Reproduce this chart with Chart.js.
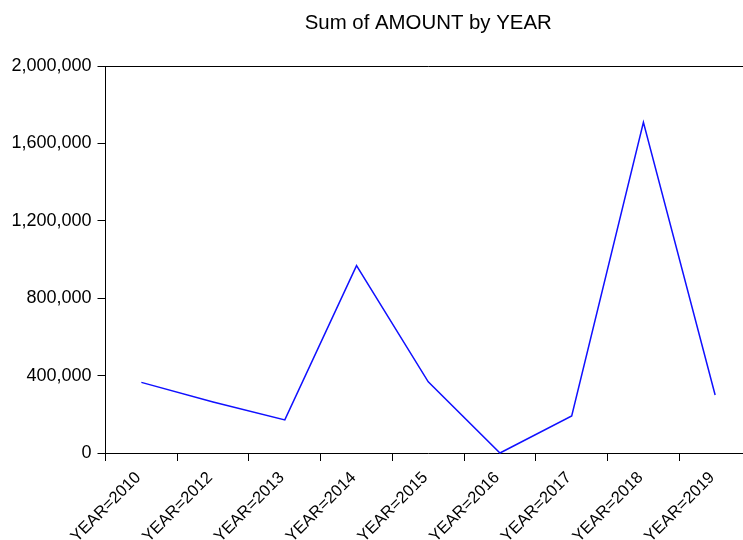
<!DOCTYPE html>
<html>
<head>
<meta charset="utf-8">
<script src="https://cdn.jsdelivr.net/npm/chart.js@4/dist/chart.umd.min.js"></script>
<style>
  html, body { margin: 0; padding: 0; background: #fff; overflow: hidden; }
  #wrap { position: relative; width: 751px; height: 540px; }
</style>
</head>
<body>
<div id="wrap"><canvas id="c"></canvas></div>
<script>
const categories = ['YEAR=2010','YEAR=2012','YEAR=2013','YEAR=2014','YEAR=2015','YEAR=2016','YEAR=2017','YEAR=2018','YEAR=2019'];
const amounts = [365000, 264000, 171000, 968000, 368000, 0, 191000, 1709000, 300000];
const yTicks = [0, 400000, 800000, 1200000, 1600000, 2000000];
const chartTitle = 'Sum of AMOUNT by YEAR';

const FONT = 'Arial, "Liberation Sans", sans-serif';

const frameAndTitle = {
  id: 'frameAndTitle',
  afterDraw(chart) {
    const a = chart.chartArea, ctx = chart.ctx;
    ctx.save();
    ctx.strokeStyle = '#000';
    ctx.lineWidth = 1;
    ctx.beginPath();
    ctx.moveTo(a.left, Math.round(a.top) + 0.5);
    ctx.lineTo(a.right, Math.round(a.top) + 0.5);
    ctx.stroke();
    ctx.fillStyle = '#000';
    ctx.font = '20.4px ' + FONT;
    ctx.textAlign = 'center';
    ctx.textBaseline = 'middle';
    ctx.fillText(chartTitle, (a.left + a.right) / 2, 23);
    ctx.restore();
  }
};

new Chart(document.getElementById('c'), {
  type: 'line',
  data: {
    labels: categories,
    datasets: [{
      data: amounts,
      borderColor: '#1010ff',
      borderWidth: 1.5,
      pointRadius: 0,
      tension: 0,
      fill: false,
      clip: false
    }]
  },
  options: {
    responsive: true,
    maintainAspectRatio: false,
    animation: false,
    layout: { padding: { left: 10, right: 0, top: 66, bottom: 0 } },
    plugins: {
      legend: { display: false },
      tooltip: { enabled: false },
      title: { display: false }
    },
    scales: {
      x: {
        type: 'category',
        offset: true,
        afterFit(scale) { scale.height = 87; },
        grid: { display: true, offset: true, drawOnChartArea: false, drawTicks: true, tickLength: 8, tickColor: '#000', lineWidth: 1 },
        border: { display: true, color: '#000', width: 1 },
        ticks: {
          color: '#000',
          font: { family: FONT, size: 16.5 },
          autoSkip: false,
          minRotation: 45,
          maxRotation: 45,
          padding: 7,
          labelOffset: -3
        }
      },
      y: {
        min: 0,
        max: 2000000,
        afterFit(scale) { scale.width = 95.5; },
        afterBuildTicks(scale) { scale.ticks = yTicks.map(v => ({ value: v })); },
        grid: { display: true, drawOnChartArea: false, drawTicks: true, tickLength: 8, tickColor: '#000', lineWidth: 1 },
        border: { display: true, color: '#000', width: 1 },
        ticks: {
          color: '#000',
          font: { family: FONT, size: 18 },
          padding: 6,
          callback: (v) => Number(v).toLocaleString('en-US')
        }
      }
    }
  },
  plugins: [frameAndTitle]
});
</script>
</body>
</html>
